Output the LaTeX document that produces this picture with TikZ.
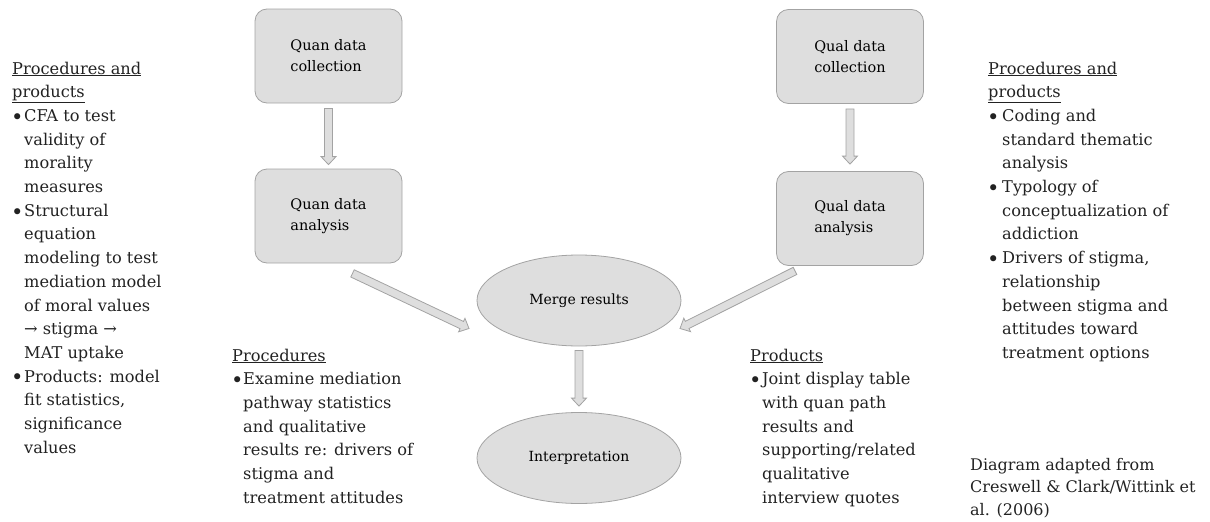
\documentclass[tikz,border=0pt]{standalone}
\usepackage{fontspec}
\setmainfont{DejaVu Serif}
\usetikzlibrary{shapes.geometric,calc}
\definecolor{boxfill}{HTML}{DEDEDE}
\definecolor{boxline}{HTML}{A3A3A3}
\definecolor{txtcol}{HTML}{222222}
\newcommand{\bodyfont}{\fontsize{16.2}{23.7}\selectfont}
\newcommand{\boxfont}{\fontsize{14.5}{21}\selectfont}
\newcommand{\ovalfont}{\fontsize{14}{21}\selectfont}
\newcommand{\citefont}{\fontsize{16}{22.5}\selectfont}
\newcommand{\bitem}[2][12pt]{\par\noindent\hangindent=#1\hangafter=1\makebox[#1][l]{\hspace*{-1pt}\raisebox{-2.8pt}{\fontsize{21}{21}\selectfont\textbullet}}#2\par}
\newcommand{\blkarrow}[2]{%
  \path ($(#2)!8pt!(#1)$) coordinate (bh);
  \draw[blockarrow] ($(#1)!4pt!90:(#2)$) -- ($(bh)!4pt!90:(#2)$) -- ($(bh)!7.5pt!90:(#2)$) -- (#2)
     -- ($(bh)!7.5pt!-90:(#2)$) -- ($(bh)!4pt!-90:(#2)$) -- ($(#1)!4pt!-90:(#2)$) -- cycle;}
\begin{document}
\begin{tikzpicture}[x=1pt,y=-1pt,
  box/.style={draw=boxline, fill=boxfill, rounded corners=12pt, minimum width=147pt, minimum height=94pt, align=left, font=\boxfont, line width=0.8pt, text=black},
  oval/.style={draw=boxline, fill=boxfill, ellipse, minimum width=204pt, minimum height=91pt, inner sep=0pt, font=\ovalfont, line width=0.8pt, text=black},
  txt/.style={anchor=base west, inner sep=0pt, text=txtcol},
  blockarrow/.style={draw=boxline, fill=boxfill, line width=0.8pt, line join=miter}]
\useasboundingbox (0,0) rectangle (1210,522);
\node[box] (quancol) at (328.5,56) {Quan data\\collection};
\node[box] (quanan) at (328.5,216) {Quan data\\analysis};
\node[box] (qualcol) at (850,56.5) {Qual data\\collection};
\node[box] (qualan) at (850,218.5) {Qual data\\analysis};
\node[oval] (merge) at (579,300.5) {Merge results};
\node[oval] (interp) at (579,458) {Interpretation};
\coordinate (a1s) at ($(quancol.south)+(0,5)$);
\coordinate (a1e) at ($(quanan.north)+(0,-4)$);
\coordinate (a2s) at ($(qualcol.south)+(0,5)$);
\coordinate (a2e) at ($(qualan.north)+(0,-7)$);
\coordinate (a3s) at ($(quanan.south)+(24,10)$);
\coordinate (a3e) at ($(merge.center)+(-110,28)$);
\coordinate (a4s) at ($(qualan.south)+(-55,5)$);
\coordinate (a4e) at ($(merge.center)+(101,28)$);
\coordinate (a5s) at ($(merge.south)+(0,4)$);
\coordinate (a5e) at ($(interp.north)+(0,-6)$);
\blkarrow{a1s}{a1e}
\blkarrow{a2s}{a2e}
\blkarrow{a3s}{a3e}
\blkarrow{a4s}{a4e}
\blkarrow{a5s}{a5e}
\node[txt] (lefttxt) at (12,74) {\parbox[t]{195pt}{\bodyfont\parindent=0pt
\underline{Procedures and}\\\underline{products}
\bitem{CFA to test\\validity of\\morality\\measures}
\bitem{Structural\\equation\\modeling to test\\mediation model\\of moral values\\→ stigma →\\MAT uptake}
\bitem{Products: model\\fit statistics,\\significance\\values}}};
\node[txt] (righttxt) at (988,74) {\parbox[t]{220pt}{\bodyfont\parindent=0pt
\underline{Procedures and}\\\underline{products}
\bitem[14pt]{Coding and\\standard thematic\\analysis}
\bitem[14pt]{Typology of\\conceptualization of\\addiction}
\bitem[14pt]{Drivers of stigma,\\relationship\\between stigma and\\attitudes toward\\treatment options}}};
\node[txt] (proctxt) at (232,361) {\parbox[t]{220pt}{\bodyfont\parindent=0pt
\underline{Procedures}
\bitem[11pt]{Examine mediation\\pathway statistics\\and qualitative\\results re: drivers of\\stigma and\\treatment attitudes}}};
\node[txt] (prodtxt) at (750,361) {\parbox[t]{220pt}{\bodyfont\parindent=0pt
\underline{Products}
\bitem[12pt]{Joint display table\\with quan path\\results and\\supporting/related\\qualitative\\interview quotes}}};
\node[txt] (cite) at (970,470) {\parbox[t]{240pt}{\citefont\parindent=0pt
Diagram adapted from\\Creswell \& Clark/Wittink et\\al. (2006)}};
\end{tikzpicture}
\end{document}
